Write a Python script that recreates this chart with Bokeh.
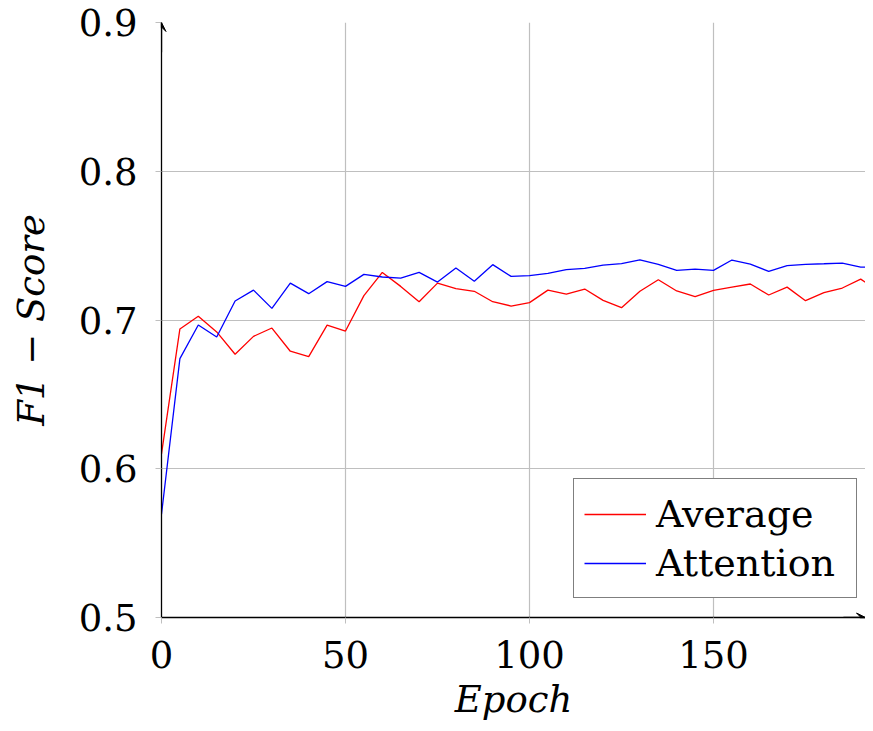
from bokeh.plotting import figure
from bokeh.models import Range1d, Arrow, VeeHead, Legend, LegendItem, FixedTicker
from bokeh.embed import file_html
from bokeh.resources import INLINE

epochs = [0, 5, 10, 15, 20, 25, 30, 35, 40, 45, 50, 55, 60, 65, 70, 75, 80, 85, 90, 95,
          100, 105, 110, 115, 120, 125, 130, 135, 140, 145, 150, 155, 160, 165, 170, 175,
          180, 185, 190, 195]
average = [0.610, 0.694, 0.7025, 0.692, 0.677, 0.689, 0.6946, 0.679, 0.6754, 0.6966,
           0.6926, 0.7164, 0.732, 0.7226, 0.7123, 0.7248, 0.7211, 0.7193, 0.7123, 0.7094,
           0.7117, 0.7201, 0.7174, 0.7208, 0.7132, 0.7083, 0.7193, 0.7271, 0.7195, 0.7157,
           0.7199, 0.7221, 0.7242, 0.7168, 0.7221, 0.7130, 0.7184, 0.7215, 0.7275, 0.7190]
attention = [0.5695, 0.674, 0.6966, 0.6886, 0.7128, 0.7201, 0.7078, 0.7248, 0.7177, 0.7258,
             0.7226, 0.7307, 0.7289, 0.7282, 0.7320, 0.7255, 0.7349, 0.7260, 0.7372, 0.7293,
             0.7298, 0.7313, 0.7338, 0.7347, 0.7369, 0.7379, 0.7404, 0.7374, 0.7334, 0.7342,
             0.7334, 0.7403, 0.7376, 0.7327, 0.7365, 0.7374, 0.7378, 0.7383, 0.7356, 0.7354]
x_ticks = [0, 50, 100, 150]
y_ticks = [0.5, 0.6, 0.7, 0.8, 0.9]

FONT = "DejaVu Serif"
X_END = 191.3

p = figure(width=865, height=723, output_backend="svg", toolbar_location=None,
           x_range=Range1d(0, X_END), y_range=Range1d(0.5, 0.9),
           min_border_left=161, min_border_right=0, min_border_top=22, min_border_bottom=106)
p.outline_line_color = None
p.background_fill_color = "white"

r1 = p.line(epochs, average, line_color="#ff0000", line_width=1.3)
r2 = p.line(epochs, attention, line_color="#0000ff", line_width=1.3)

for ax in (p.xaxis[0], p.yaxis[0]):
    ax.axis_line_color = "black"
    ax.axis_line_width = 1.3
    ax.major_tick_line_color = "#bfbfbf"
    ax.major_tick_out = 6
    ax.major_tick_in = 0
    ax.minor_tick_line_color = None
    ax.major_label_text_font = FONT
    ax.major_label_text_font_size = "37px"
    ax.major_label_text_color = "black"
    ax.axis_label_text_font = FONT
    ax.axis_label_text_font_size = "37px"
    ax.axis_label_text_font_style = "italic"
    ax.axis_label_text_color = "black"

p.xaxis.ticker = FixedTicker(ticks=x_ticks)
p.yaxis.ticker = FixedTicker(ticks=y_ticks)
p.xaxis.axis_label = "Epoch"
p.yaxis.axis_label = "F1 \u2212 Score"
p.xaxis.major_label_text_line_height = 1.0
p.xaxis.axis_label_text_line_height = 1.0
p.xaxis.major_label_standoff = 17
p.yaxis.major_label_standoff = 18
p.xaxis.axis_label_standoff = 7
p.yaxis.axis_label_standoff = 23

for g in (p.xgrid[0], p.ygrid[0]):
    g.grid_line_color = "#bfbfbf"
    g.grid_line_width = 1.2
p.xgrid.ticker = FixedTicker(ticks=x_ticks)
p.ygrid.ticker = FixedTicker(ticks=y_ticks)

p.add_layout(Arrow(end=VeeHead(size=9, line_color="black", fill_color="black", line_width=1),
                   x_start=0, y_start=0.88, x_end=0, y_end=0.9,
                   line_color="black", line_width=1.3))
p.add_layout(Arrow(end=VeeHead(size=9, line_color="black", fill_color="black", line_width=1),
                   x_start=X_END - 6, y_start=0.5, x_end=X_END, y_end=0.5,
                   line_color="black", line_width=1.3))

legend = Legend(items=[LegendItem(label="Average", renderers=[r1]),
                       LegendItem(label="Attention", renderers=[r2])],
                location=(412, 19))
legend.label_text_font = FONT
legend.label_text_font_size = "38px"
legend.label_text_color = "black"
legend.glyph_width = 62
legend.glyph_height = 40
legend.label_height = 49
legend.label_width = 190
legend.label_standoff = 10
legend.spacing = 0
legend.padding = 10
legend.margin = 0
legend.border_line_color = "black"
legend.border_line_width = 1.3
legend.background_fill_alpha = 1
p.add_layout(legend)

open("out.html", "w").write(file_html(p, INLINE))
